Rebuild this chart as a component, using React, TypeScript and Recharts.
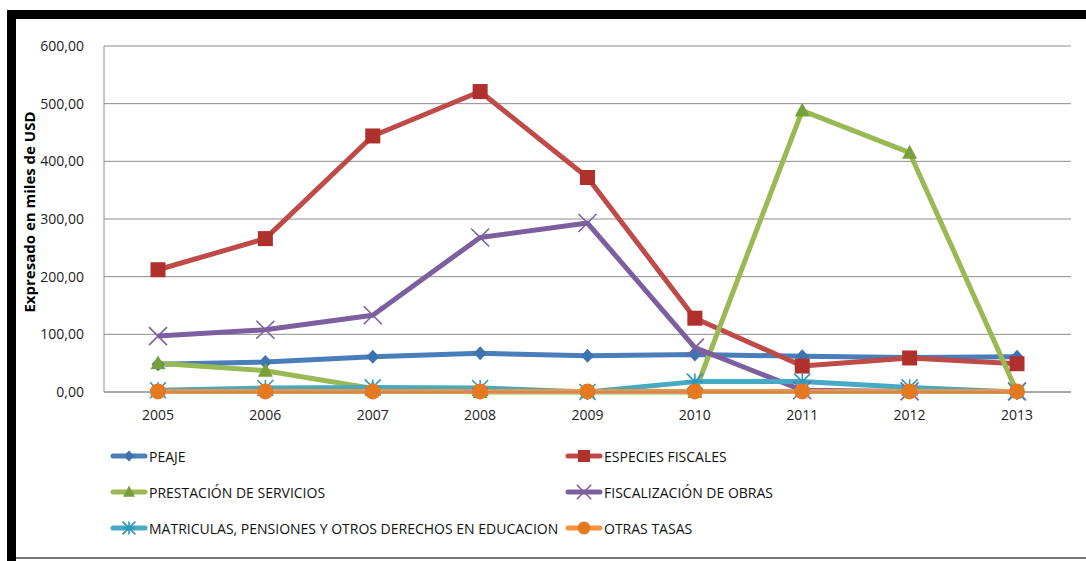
import React from 'react';
import { LineChart, Line, XAxis, YAxis, CartesianGrid } from 'recharts';

const years = ['2005', '2006', '2007', '2008', '2009', '2010', '2011', '2012', '2013'];
const peaje = [48, 52, 61, 67, 63, 65, 62, 60, 61];
const especies = [212, 266, 444, 521, 372, 128, 45, 59, 49];
const prestacion = [50, 37, 6, 0, 0, 0, 488, 415, 0];
const fiscalizacion = [97, 108, 133, 268, 293, 77, 3, 1, 1];
const matriculas = [3, 7, 8, 7, 0, 18, 18, 8, 0];
const otras = [1, 1, 1, 1, 1, 1, 1, 1, 1];
const yTicks = [0, 100, 200, 300, 400, 500, 600];

const seriesNames = [
  'PEAJE',
  'ESPECIES FISCALES',
  'PRESTACIÓN DE SERVICIOS',
  'FISCALIZACIÓN DE OBRAS',
  'MATRICULAS, PENSIONES Y OTROS DERECHOS EN EDUCACION',
  'OTRAS TASAS',
];

const data = years.map((y, i) => ({
  year: y,
  peaje: peaje[i],
  especies: especies[i],
  prestacion: prestacion[i],
  fiscalizacion: fiscalizacion[i],
  matriculas: matriculas[i],
  otras: otras[i],
}));

const C = {
  peaje: '#4A7EBB',
  peajeM: '#3F72B0',
  especies: '#BE4B48',
  especiesM: '#B0302E',
  prestacion: '#98B954',
  prestacionM: '#77A03A',
  fiscalizacion: '#7D5FA0',
  fiscalizacionM: '#7D5FA0',
  matriculas: '#46AAC5',
  matriculasM: '#2E98B8',
  otras: '#F69240',
  otrasM: '#E5791F',
};

type Shape = 'diamond' | 'square' | 'triangle' | 'x' | 'star' | 'circle';

function marker(shape: Shape, cx: number, cy: number, color: string, key: string, s = 1) {
  if (shape === 'diamond') {
    return <path key={key} d={`M${cx},${cy - 7 * s} L${cx + 6.5 * s},${cy} L${cx},${cy + 7 * s} L${cx - 6.5 * s},${cy} Z`} fill={color} />;
  }
  if (shape === 'square') {
    const h = 7.5 * s;
    return <rect key={key} x={cx - h} y={cy - h} width={2 * h} height={2 * h} fill={color} />;
  }
  if (shape === 'triangle') {
    return <path key={key} d={`M${cx},${cy - 8 * s} L${cx + 7.5 * s},${cy + 6 * s} L${cx - 7.5 * s},${cy + 6 * s} Z`} fill={color} />;
  }
  if (shape === 'x') {
    const h = 9 * s;
    return (
      <g key={key} stroke={color} strokeWidth={1.6}>
        <line x1={cx - h} y1={cy - h} x2={cx + h} y2={cy + h} />
        <line x1={cx - h} y1={cy + h} x2={cx + h} y2={cy - h} />
      </g>
    );
  }
  if (shape === 'star') {
    const h = 8 * s;
    return (
      <g key={key} stroke={color} strokeWidth={1.6}>
        <line x1={cx - h} y1={cy - h} x2={cx + h} y2={cy + h} />
        <line x1={cx - h} y1={cy + h} x2={cx + h} y2={cy - h} />
        <line x1={cx} y1={cy - h} x2={cx} y2={cy + h} />
        <line x1={cx - h} y1={cy} x2={cx + h} y2={cy} />
      </g>
    );
  }
  return <circle key={key} cx={cx} cy={cy} r={8 * s} fill={color} />;
}

const dotFn = (shape: Shape, color: string) => (p: any) => {
  const k = `${shape}-${p.index}`;
  if (p.cx == null || p.cy == null) return <g key={k} />;
  return marker(shape, p.cx, p.cy, color, k);
};

const series: { key: string; shape: Shape; color: string; mcolor: string }[] = [
  { key: 'peaje', shape: 'diamond', color: C.peaje, mcolor: C.peajeM },
  { key: 'especies', shape: 'square', color: C.especies, mcolor: C.especiesM },
  { key: 'prestacion', shape: 'triangle', color: C.prestacion, mcolor: C.prestacionM },
  { key: 'fiscalizacion', shape: 'x', color: C.fiscalizacion, mcolor: C.fiscalizacionM },
  { key: 'matriculas', shape: 'star', color: C.matriculas, mcolor: C.matriculasM },
  { key: 'otras', shape: 'circle', color: C.otras, mcolor: C.otrasM },
];

const FONT = '"Open Sans", sans-serif';

const legendPos = [
  { x: 110, y: 456 },
  { x: 565, y: 456 },
  { x: 110, y: 492 },
  { x: 565, y: 492 },
  { x: 110, y: 528 },
  { x: 565, y: 528 },
];

function LegendItem({ idx }: { idx: number }) {
  const s = series[idx];
  const pos = legendPos[idx];
  return (
    <div style={{ position: 'absolute', left: pos.x, top: pos.y - 10, height: 20, display: 'flex', alignItems: 'center' }}>
      <svg width={38} height={20} style={{ display: 'block' }}>
        <line x1={3} y1={10} x2={35} y2={10} stroke={s.color} strokeWidth={5} strokeLinecap="round" />
        {marker(s.shape, 19, 10, s.mcolor, 'm', 0.8)}
      </svg>
      <span style={{ fontFamily: FONT, fontSize: 14, color: '#111', whiteSpace: 'nowrap', marginLeft: 1 }}>{seriesNames[idx]}</span>
    </div>
  );
}

export default function App() {
  return (
    <div style={{ position: 'absolute', left: 0, top: 0, width: 1086, height: 561, background: '#fff', overflow: 'hidden' }}>
      <div style={{ position: 'absolute', left: 7, top: 10, width: 1079, height: 9, background: '#000' }} />
      <div style={{ position: 'absolute', left: 7, top: 10, width: 9, height: 551, background: '#000' }} />
      <div style={{ position: 'absolute', left: 16, top: 557, width: 1070, height: 2, background: '#777' }} />
      <div style={{ position: 'absolute', left: 0, top: 0 }}>
        <LineChart width={1086} height={561} data={data} margin={{ top: 46, right: 15, left: 0, bottom: 139 }}>
          <CartesianGrid vertical={false} stroke="#8C8C8C" strokeWidth={1} />
          <XAxis
            dataKey="year"
            tickLine={false}
            axisLine={{ stroke: '#8C8C8C' }}
            height={30}
            padding={{ left: 54, right: 54 }}
            tick={{ fontFamily: FONT, fontSize: 14, fill: '#222' }}
            tickMargin={12}
          />
          <YAxis
            width={104}
            domain={[0, 600]}
            ticks={yTicks}
            tickLine={false}
            axisLine={{ stroke: '#8C8C8C' }}
            tickFormatter={(v: number) => v.toFixed(2).replace('.', ',')}
            tick={{ fontFamily: FONT, fontSize: 14, fill: '#222' }}
            tickMargin={14}
            label={{
              content: () => (
                <text
                  x={35}
                  y={212}
                  transform="rotate(-90, 35, 212)"
                  textAnchor="middle"
                  style={{ fontFamily: FONT, fontSize: 15, fontWeight: 700, fill: '#000' }}
                >
                  Expresado en miles de USD
                </text>
              ),
            }}
          />
          {series.map((s) => (
            <Line
              key={s.key}
              dataKey={s.key}
              stroke={s.color}
              strokeWidth={5}
              strokeLinejoin="round"
              type="linear"
              dot={dotFn(s.shape, s.mcolor)}
              activeDot={false}
              isAnimationActive={false}
            />
          ))}
        </LineChart>
      </div>
      {series.map((_, i) => (
        <LegendItem key={i} idx={i} />
      ))}
    </div>
  );
}
